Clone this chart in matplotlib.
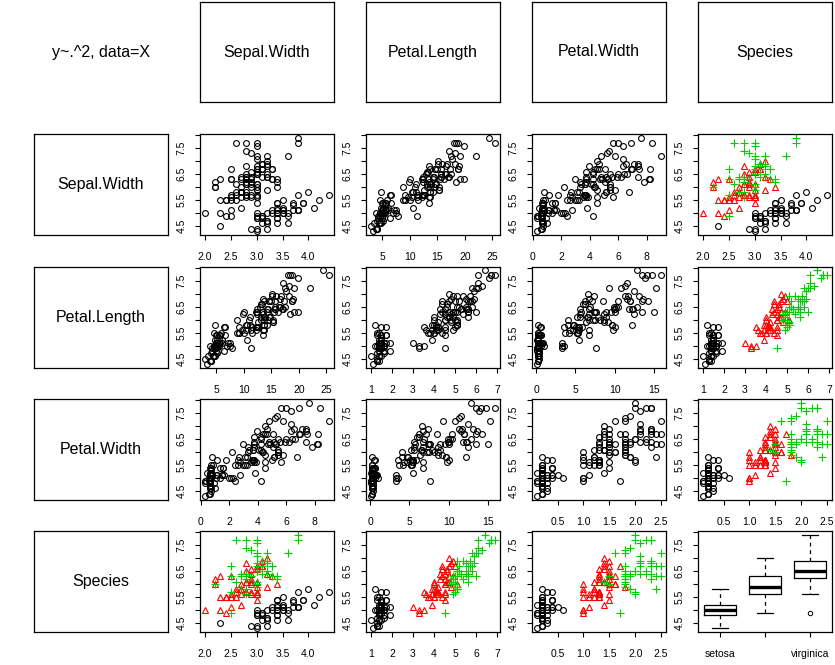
import numpy as np
import matplotlib.pyplot as plt
from matplotlib.ticker import MultipleLocator, FuncFormatter

plt.rc('font', family='Liberation Sans')

# iris data
sepal_length = [5.1, 4.9, 4.7, 4.6, 5.0, 5.4, 4.6, 5.0, 4.4, 4.9, 5.4, 4.8, 4.8, 4.3, 5.8, 5.7, 5.4, 5.1, 5.7, 5.1,
                5.4, 5.1, 4.6, 5.1, 4.8, 5.0, 5.0, 5.2, 5.2, 4.7, 4.8, 5.4, 5.2, 5.5, 4.9, 5.0, 5.5, 4.9, 4.4, 5.1,
                5.0, 4.5, 4.4, 5.0, 5.1, 4.8, 5.1, 4.6, 5.3, 5.0,
                7.0, 6.4, 6.9, 5.5, 6.5, 5.7, 6.3, 4.9, 6.6, 5.2, 5.0, 5.9, 6.0, 6.1, 5.6, 6.7, 5.6, 5.8, 6.2, 5.6,
                5.9, 6.1, 6.3, 6.1, 6.4, 6.6, 6.8, 6.7, 6.0, 5.7, 5.5, 5.5, 5.8, 6.0, 5.4, 6.0, 6.7, 6.3, 5.6, 5.5,
                5.5, 6.1, 5.8, 5.0, 5.6, 5.7, 5.7, 6.2, 5.1, 5.7,
                6.3, 5.8, 7.1, 6.3, 6.5, 7.6, 4.9, 7.3, 6.7, 7.2, 6.5, 6.4, 6.8, 5.7, 5.8, 6.4, 6.5, 7.7, 7.7, 6.0,
                6.9, 5.6, 7.7, 6.3, 6.7, 7.2, 6.2, 6.1, 6.4, 7.2, 7.4, 7.9, 6.4, 6.3, 6.1, 7.7, 6.3, 6.4, 6.0, 6.9,
                6.7, 6.9, 5.8, 6.8, 6.7, 6.7, 6.3, 6.5, 6.2, 5.9]
sepal_width = [3.5, 3.0, 3.2, 3.1, 3.6, 3.9, 3.4, 3.4, 2.9, 3.1, 3.7, 3.4, 3.0, 3.0, 4.0, 4.4, 3.9, 3.5, 3.8, 3.8,
               3.4, 3.7, 3.6, 3.3, 3.4, 3.0, 3.4, 3.5, 3.4, 3.2, 3.1, 3.4, 4.1, 4.2, 3.1, 3.2, 3.5, 3.6, 3.0, 3.4,
               3.5, 2.3, 3.2, 3.5, 3.8, 3.0, 3.8, 3.2, 3.7, 3.3,
               3.2, 3.2, 3.1, 2.3, 2.8, 2.8, 3.3, 2.4, 2.9, 2.7, 2.0, 3.0, 2.2, 2.9, 2.9, 3.1, 3.0, 2.7, 2.2, 2.5,
               3.2, 2.8, 2.5, 2.8, 2.9, 3.0, 2.8, 3.0, 2.9, 2.6, 2.4, 2.4, 2.7, 2.7, 3.0, 3.4, 3.1, 2.3, 3.0, 2.5,
               2.6, 3.0, 2.6, 2.3, 2.7, 3.0, 2.9, 2.9, 2.5, 2.8,
               3.3, 2.7, 3.0, 2.9, 3.0, 3.0, 2.5, 2.9, 2.5, 3.6, 3.2, 2.7, 3.0, 2.5, 2.8, 3.2, 3.0, 3.8, 2.6, 2.2,
               3.2, 2.8, 2.8, 2.7, 3.3, 3.2, 2.8, 3.0, 2.8, 3.0, 2.8, 3.8, 2.8, 2.8, 2.6, 3.0, 3.4, 3.1, 3.0, 3.1,
               3.1, 3.1, 2.7, 3.2, 3.3, 3.0, 2.5, 3.0, 3.4, 3.0]
petal_length = [1.4, 1.4, 1.3, 1.5, 1.4, 1.7, 1.4, 1.5, 1.4, 1.5, 1.5, 1.6, 1.4, 1.1, 1.2, 1.5, 1.3, 1.4, 1.7, 1.5,
                1.7, 1.5, 1.0, 1.7, 1.9, 1.6, 1.6, 1.5, 1.4, 1.6, 1.6, 1.5, 1.5, 1.4, 1.5, 1.2, 1.3, 1.4, 1.3, 1.5,
                1.3, 1.3, 1.3, 1.6, 1.9, 1.4, 1.6, 1.4, 1.5, 1.4,
                4.7, 4.5, 4.9, 4.0, 4.6, 4.5, 4.7, 3.3, 4.6, 3.9, 3.5, 4.2, 4.0, 4.7, 3.6, 4.4, 4.5, 4.1, 4.5, 3.9,
                4.8, 4.0, 4.9, 4.7, 4.3, 4.4, 4.8, 5.0, 4.5, 3.5, 3.8, 3.7, 3.9, 5.1, 4.5, 4.5, 4.7, 4.4, 4.1, 4.0,
                4.4, 4.6, 4.0, 3.3, 4.2, 4.2, 4.2, 4.3, 3.0, 4.1,
                6.0, 5.1, 5.9, 5.6, 5.8, 6.6, 4.5, 6.3, 5.8, 6.1, 5.1, 5.3, 5.5, 5.0, 5.1, 5.3, 5.5, 6.7, 6.9, 5.0,
                5.7, 4.9, 6.7, 4.9, 5.7, 6.0, 4.8, 4.9, 5.6, 5.8, 6.1, 6.4, 5.6, 5.1, 5.6, 6.1, 5.6, 5.5, 4.8, 5.4,
                5.6, 5.1, 5.1, 5.9, 5.7, 5.2, 5.0, 5.2, 5.4, 5.1]
petal_width = [0.2, 0.2, 0.2, 0.2, 0.2, 0.4, 0.3, 0.2, 0.2, 0.1, 0.2, 0.2, 0.1, 0.1, 0.2, 0.4, 0.4, 0.3, 0.3, 0.3,
               0.2, 0.4, 0.2, 0.5, 0.2, 0.2, 0.4, 0.2, 0.2, 0.2, 0.2, 0.4, 0.1, 0.2, 0.2, 0.2, 0.2, 0.1, 0.2, 0.2,
               0.3, 0.3, 0.2, 0.6, 0.4, 0.3, 0.2, 0.2, 0.2, 0.2,
               1.4, 1.5, 1.5, 1.3, 1.5, 1.3, 1.6, 1.0, 1.3, 1.4, 1.0, 1.5, 1.0, 1.4, 1.3, 1.4, 1.5, 1.0, 1.5, 1.1,
               1.8, 1.3, 1.5, 1.2, 1.3, 1.4, 1.4, 1.7, 1.5, 1.0, 1.1, 1.0, 1.2, 1.6, 1.5, 1.6, 1.5, 1.3, 1.3, 1.3,
               1.2, 1.4, 1.2, 1.0, 1.3, 1.2, 1.3, 1.3, 1.1, 1.3,
               2.5, 1.9, 2.1, 1.8, 2.2, 2.1, 1.7, 1.8, 1.8, 2.5, 2.0, 1.9, 2.1, 2.0, 2.4, 2.3, 1.8, 2.2, 2.3, 1.5,
               2.3, 2.0, 2.0, 1.8, 2.1, 1.8, 1.8, 1.8, 2.1, 1.6, 1.9, 2.0, 2.2, 1.5, 1.4, 2.3, 2.4, 1.8, 1.8, 2.1,
               2.4, 2.3, 1.9, 2.3, 2.5, 2.3, 1.9, 2.0, 2.3, 1.8]
species_names = ['setosa', 'versicolor', 'virginica']
species_counts = [50, 50, 50]

var_names = ['Sepal.Width', 'Petal.Length', 'Petal.Width', 'Species']
corner_text = 'y~.^2, data=X'

y = np.array(sepal_length)
cols = {'Sepal.Width': np.array(sepal_width),
        'Petal.Length': np.array(petal_length),
        'Petal.Width': np.array(petal_width)}
sp = np.repeat(np.arange(3), species_counts)

# x tick step for each x variable
steps = {('Sepal.Width',): 0.5, ('Petal.Length',): 1, ('Petal.Width',): 0.5,
         ('Sepal.Width', 'Petal.Length'): 5, ('Sepal.Width', 'Petal.Width'): 2,
         ('Petal.Length', 'Petal.Width'): 5}

sp_style = [dict(marker='o', color='black', ms=4.2),
            dict(marker='^', color='#FF0000', ms=4.8),
            dict(marker='+', color='#00CD00', ms=5.8)]

W, H = 835, 665
fig = plt.figure(figsize=(W/100, H/100), dpi=100)

def add_ax(x0, y0, x1, y1):
    return fig.add_axes([x0/W, 1-y1/H, (x1-x0)/W, (y1-y0)/H])

col_x = [200, 366, 532, 698]
row_y = [134, 266.5, 399, 531]
pw, ph = 134, 101

def label_box(ax, text, frame=True):
    ax.set_xticks([]); ax.set_yticks([])
    for s in ax.spines.values():
        s.set_visible(frame)
        s.set_linewidth(0.9)
    ax.text(0.5, 0.5, text, ha='center', va='center', fontsize=11.5, transform=ax.transAxes)

# header row
ax = add_ax(34, 2, 168, 102)
label_box(ax, corner_text, frame=False)
for j, name in enumerate(var_names):
    ax = add_ax(col_x[j], 2, col_x[j]+pw, 102)
    label_box(ax, name)

ylim = (y.min() - 0.04*np.ptp(y), y.max() + 0.04*np.ptp(y))

for i, rname in enumerate(var_names):
    ax = add_ax(34, row_y[i], 168, row_y[i]+ph)
    label_box(ax, rname)
    for j, cname in enumerate(var_names):
        ax = add_ax(col_x[j], row_y[i], col_x[j]+pw, row_y[i]+ph)
        for s in ax.spines.values():
            s.set_linewidth(0.9)
        ax.tick_params(direction='out', length=3.8, width=0.8, labelsize=7.5, pad=8.5)
        ax.tick_params(axis='y', labelrotation=90, pad=6)
        ax.yaxis.set_major_locator(MultipleLocator(0.5))
        ax.yaxis.set_major_formatter(FuncFormatter(
            lambda v, p: ('%.1f' % v) if abs((v - 4.5) % 1) < 1e-6 else ''))
        for t in ax.get_yticklabels():
            t.set_va('center')
        ax.set_ylim(ylim)
        if rname == 'Species' and cname == 'Species':
            groups = [y[sp == k] for k in range(3)]
            ax.boxplot(groups, positions=[1, 2, 3], widths=0.72, capwidths=0.36,
                       medianprops=dict(color='black', linewidth=2.4),
                       boxprops=dict(linewidth=0.9),
                       whiskerprops=dict(linestyle=(0, (3, 3)), linewidth=0.9),
                       capprops=dict(linewidth=0.9),
                       flierprops=dict(marker='o', markersize=3.2, markerfacecolor='none',
                                       markeredgecolor='black', markeredgewidth=0.7))
            ax.set_xlim(0.5, 3.5)
            ax.set_xticks([1, 2, 3])
            ax.set_xticklabels([species_names[0], '', species_names[2]])
            continue
        if rname == 'Species' or cname == 'Species':
            other = cname if rname == 'Species' else rname
            x = cols[other]
            key = (other,)
            for k in range(3):
                st = sp_style[k]
                m = sp == k
                ax.plot(x[m], y[m], linestyle='none', marker=st['marker'], ms=st['ms'],
                        mfc='none', mec=st['color'], mew=0.8)
        else:
            if i == j:
                x = cols[rname]
                key = (rname,)
            else:
                a, b = sorted([rname, cname], key=var_names.index)
                x = cols[a]*cols[b]
                key = (a, b)
            ax.plot(x, y, linestyle='none', marker='o', ms=4.2, mfc='none', mec='black', mew=0.8)
        ax.set_xlim(x.min() - 0.04*np.ptp(x), x.max() + 0.04*np.ptp(x))
        ax.xaxis.set_major_locator(MultipleLocator(steps[key]))
        step = steps[key]
        ax.xaxis.set_major_formatter(FuncFormatter(
            lambda v, p, s=step: ('%.1f' % v) if s < 1 else ('%d' % round(v))))

fig.savefig('out.png', dpi=100)
